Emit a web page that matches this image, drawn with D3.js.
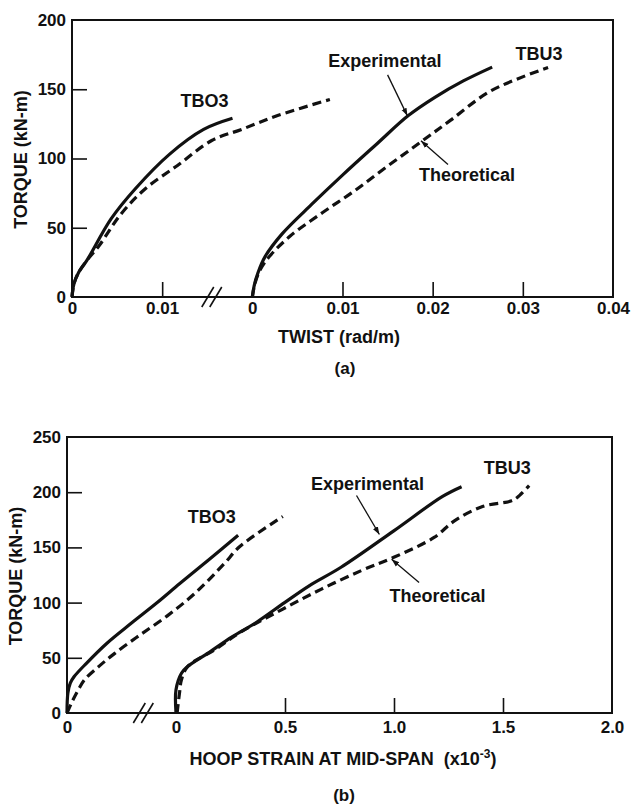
<!DOCTYPE html>
<html>
<head>
<meta charset="utf-8">
<script src="https://cdn.jsdelivr.net/npm/d3@7"></script>
<style>
  body { margin: 0; background: #fff; }
  svg text { font-family: "Liberation Sans", Arial, sans-serif; font-weight: bold; fill: #111; }
</style>
</head>
<body>
<div id="chart"></div>
<script>
// ---- data: [x, torque kN-m] ----
// (a) twist, rad/m
const twistTBO3Exp = [[0,0],[0.00022,9.6],[0.00076,18],[0.00165,26.4],[0.00433,56.4],[0.0070,78],[0.0108,103],[0.0146,121],[0.0178,129]];
const twistTBO3Theo = [[0,0],[0.00022,9.6],[0.00076,18],[0.00165,26.4],[0.0030,37],[0.00544,60],[0.0081,78],[0.0117,95],[0.0155,113],[0.0188,121],[0.0228,131],[0.0286,142.6]];
const twistTBU3Exp = [[0,0],[0.0002,8],[0.0006,17],[0.0014,29],[0.0033,45.6],[0.0066,67],[0.0100,88],[0.0138,110.5],[0.0173,131],[0.0202,144],[0.0234,156],[0.0266,166]];
const twistTBU3Theo = [[0,0],[0.0003,10],[0.0009,20],[0.00186,29],[0.0042,44],[0.0078,61],[0.0113,76.5],[0.0149,94],[0.0187,112],[0.0220,127.7],[0.0265,149],[0.0328,165.7]];

// (b) hoop strain at mid-span, x10^-3
const hoopTBO3Exp = [[0,0],[0.004,18],[0.015,27],[0.033,33],[0.089,45],[0.182,63],[0.293,81],[0.414,100],[0.516,117],[0.645,138],[0.785,161]];
const hoopTBO3Theo = [[0,0],[0.024,10.5],[0.052,21],[0.08,30],[0.145,42],[0.219,54],[0.33,70],[0.46,88],[0.59,109],[0.72,135],[0.794,151],[0.99,178]];
const hoopTBU3Exp = [[0,0],[0,21],[0.025,36],[0.053,42],[0.145,54],[0.257,69],[0.368,82],[0.498,100],[0.609,115],[0.757,132],[0.999,165],[1.221,196],[1.31,205]];
const hoopTBU3Theo = [[0.005,0],[0.016,18],[0.025,30],[0.053,42],[0.183,58],[0.294,73],[0.479,93],[0.665,112],[0.85,129],[0.999,141],[1.184,159],[1.277,174],[1.406,187],[1.536,192],[1.564,195],[1.62,206]];

// broken axis: TBO3 is drawn from the first "0", TBU3 from the second
const twistTicks = [-0.02, -0.01, 0, 0.01, 0.02, 0.03, 0.04];
const twistTickLabels = ['0', '0.01', '0', '0.01', '0.02', '0.03', '0.04'];
const twistTickMarks = [-0.01, 0.01, 0.02, 0.03];
const hoopTicks = [-0.5, 0, 0.5, 1.0, 1.5, 2.0];
const hoopTickLabels = ['0', '0', '0.5', '1.0', '1.5', '2.0'];
const hoopTickMarks = [0.5, 1.0, 1.5];
const torqueTicksA = [0, 50, 100, 150, 200];
const torqueTicksB = [0, 50, 100, 150, 200, 250];

const svg = d3.select('#chart')
    .append('svg')
    .attr('width', 631)
    .attr('height', 804);

svg.append('defs').append('marker')
    .attr('id', 'arrow')
    .attr('viewBox', '0 0 10 10')
    .attr('refX', 10).attr('refY', 5)
    .attr('markerWidth', 6).attr('markerHeight', 6)
    .attr('orient', 'auto')
    .append('path')
    .attr('d', 'M0,1.5L10,5L0,8.5z')
    .attr('fill', '#111');

function drawPanel(p) {
    const x = d3.scaleLinear().domain(p.xDomain).range([p.left, p.right]);
    const y = d3.scaleLinear().domain(p.yDomain).range([p.bottom, p.top]);
    const g = svg.append('g');

    // bottom axis (labels + inward ticks)
    const xAxis = g.append('g')
        .attr('transform', `translate(0,${p.bottom})`)
        .call(d3.axisBottom(x)
            .tickValues(p.xTicks)
            .tickFormat((d, i) => p.xTickLabels[i])
            .tickSizeInner(-15)
            .tickSizeOuter(0)
            .tickPadding(p.xPad));
    xAxis.select('.domain').remove();
    xAxis.selectAll('.tick line').filter(d => !p.xTickMarks.includes(d)).remove();

    const yAxis = g.append('g')
        .attr('transform', `translate(${p.left},0)`)
        .call(d3.axisLeft(y)
            .tickValues(p.yTicks)
            .tickSizeInner(-15)
            .tickSizeOuter(0)
            .tickPadding(6));
    yAxis.select('.domain').remove();
    yAxis.selectAll('.tick line').filter(d => d === p.yDomain[0] || d === p.yDomain[1]).remove();

    g.selectAll('.tick line').attr('stroke', '#111').attr('stroke-width', 1.6);
    g.selectAll('.tick text').attr('font-size', 17).attr('font-family', null).attr('fill', '#111');

    // frame
    g.append('rect')
        .attr('x', p.left).attr('y', p.top)
        .attr('width', p.right - p.left).attr('height', p.bottom - p.top)
        .attr('fill', 'none').attr('stroke', '#111').attr('stroke-width', 2);

    // axis break marks
    const bx = x(p.breakAt);
    [-4, 4].forEach(dx => {
        g.append('line')
            .attr('x1', bx + dx - 6).attr('y1', p.bottom + 10)
            .attr('x2', bx + dx + 6).attr('y2', p.bottom - 10)
            .attr('stroke', '#111').attr('stroke-width', 1.6);
    });

    // curves
    const line = d3.line().curve(d3.curveCatmullRom.alpha(0.5));
    p.series.forEach(s => {
        g.append('path')
            .attr('d', line(s.data.map(d => [x(d[0] + s.offset), y(d[1])])))
            .attr('fill', 'none')
            .attr('stroke', '#111')
            .attr('stroke-width', 3.2)
            .attr('stroke-linejoin', 'round')
            .attr('stroke-dasharray', s.dashed ? '9,5' : null);
    });

    // annotations
    p.labels.forEach(l => {
        g.append('text')
            .attr('x', x(l.x)).attr('y', y(l.y))
            .attr('dy', '0.35em')
            .attr('text-anchor', 'middle')
            .attr('font-size', 18)
            .text(l.text);
    });
    p.arrows.forEach(a => {
        g.append('line')
            .attr('x1', x(a[0])).attr('y1', y(a[1]))
            .attr('x2', x(a[2])).attr('y2', y(a[3]))
            .attr('stroke', '#111').attr('stroke-width', 1.3)
            .attr('marker-end', 'url(#arrow)');
    });

    // y title
    g.append('text')
        .attr('transform', `translate(${p.left - 51},${(p.top + p.bottom) / 2 + 1}) rotate(-90)`)
        .attr('dy', '0.35em')
        .attr('text-anchor', 'middle')
        .attr('font-size', 18)
        .text('TORQUE (kN-m)');

    return g;
}

// ---- (a) ----
const ga = drawPanel({
    left: 72, right: 613, top: 20, bottom: 297, xPad: 5,
    xDomain: [-0.02, 0.04], yDomain: [0, 200],
    xTicks: twistTicks, xTickLabels: twistTickLabels, xTickMarks: twistTickMarks,
    yTicks: torqueTicksA, breakAt: -0.0045,
    series: [
        { data: twistTBO3Exp, offset: -0.02, dashed: false },
        { data: twistTBO3Theo, offset: -0.02, dashed: true },
        { data: twistTBU3Exp, offset: 0, dashed: false },
        { data: twistTBU3Theo, offset: 0, dashed: true }
    ],
    labels: [
        { text: 'TBO3', x: -0.0053, y: 141.7 },
        { text: 'Experimental', x: 0.0147, y: 170.4 },
        { text: 'TBU3', x: 0.0318, y: 175.7 },
        { text: 'Theoretical', x: 0.0238, y: 88.4 }
    ],
    arrows: [
        [0.0150, 160.4, 0.0172, 130.8],
        [0.0217, 95.6, 0.0187, 112.8]
    ]
});
ga.append('text').attr('x', 339).attr('y', 337).attr('dy', '0.35em')
    .attr('text-anchor', 'middle').attr('font-size', 18).text('TWIST (rad/m)');
ga.append('text').attr('x', 345).attr('y', 368).attr('dy', '0.35em')
    .attr('text-anchor', 'middle').attr('font-size', 17).text('(a)');

// ---- (b) ----
const gb = drawPanel({
    left: 67, right: 612, top: 437, bottom: 713, xPad: 8,
    xDomain: [-0.5, 2.0], yDomain: [0, 250],
    xTicks: hoopTicks, xTickLabels: hoopTickLabels, xTickMarks: hoopTickMarks,
    yTicks: torqueTicksB, breakAt: -0.15,
    series: [
        { data: hoopTBO3Exp, offset: -0.5, dashed: false },
        { data: hoopTBO3Theo, offset: -0.5, dashed: true },
        { data: hoopTBU3Exp, offset: 0, dashed: false },
        { data: hoopTBU3Theo, offset: 0, dashed: true }
    ],
    labels: [
        { text: 'TBO3', x: 0.164, y: 178.2 },
        { text: 'Experimental', x: 0.878, y: 208 },
        { text: 'TBU3', x: 1.52, y: 222.2 },
        { text: 'Theoretical', x: 1.20, y: 106.3 }
    ],
    arrows: [
        [0.828, 197, 0.933, 161.7],
        [1.115, 118.3, 0.989, 139.2]
    ]
});
const hoopTitle = gb.append('text').attr('x', 343).attr('y', 759).attr('dy', '0.35em')
    .attr('text-anchor', 'middle').attr('font-size', 18);
hoopTitle.append('tspan').text('HOOP STRAIN AT MID-SPAN\u00a0\u00a0(x10');
hoopTitle.append('tspan').attr('font-size', 12).attr('dy', '-0.6em').text('-3');
hoopTitle.append('tspan').attr('dy', '0.4em').text(')');
gb.append('text').attr('x', 344).attr('y', 795).attr('dy', '0.35em')
    .attr('text-anchor', 'middle').attr('font-size', 17).text('(b)');
</script>
</body>
</html>
